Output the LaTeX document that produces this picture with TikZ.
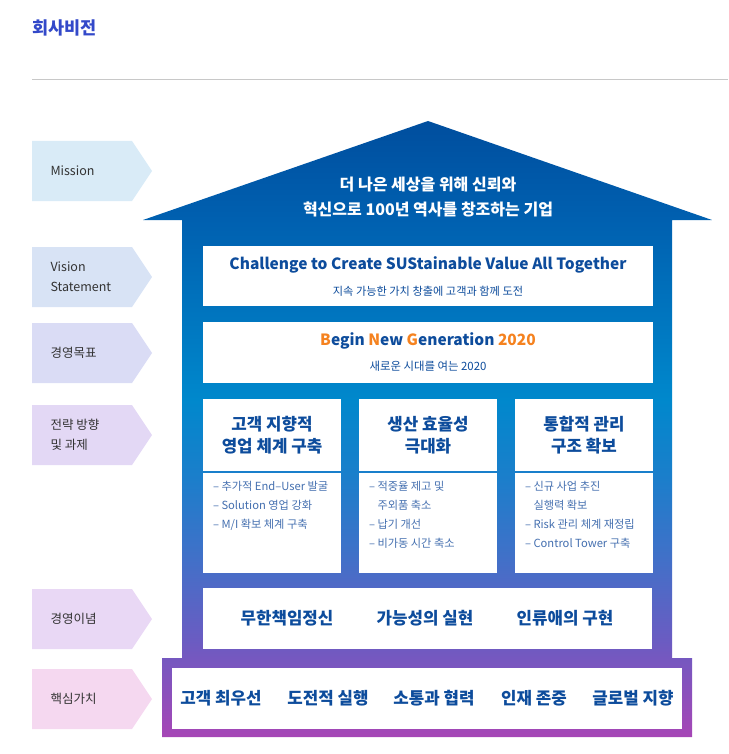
\documentclass[tikz,border=0pt]{standalone}
\usepackage{fontspec}
\setmainfont{Noto Sans CJK KR}
\usetikzlibrary{positioning}

\definecolor{titleblue}{HTML}{3349C9}
\definecolor{deepblue}{HTML}{0D4C9C}
\definecolor{softblue}{HTML}{4570B0}
\definecolor{orangeA}{HTML}{F5821F}
\definecolor{labgray}{HTML}{333333}
\definecolor{rulegray}{HTML}{C8C8C8}
\definecolor{labA}{HTML}{D9EBF7}
\definecolor{labB}{HTML}{D8E3F5}
\definecolor{labC}{HTML}{DADCF5}
\definecolor{labD}{HTML}{E3D8F5}
\definecolor{labE}{HTML}{E9D8F5}
\definecolor{labF}{HTML}{F5D8F0}
\definecolor{hb0}{HTML}{004E9E}
\definecolor{hb1}{HTML}{0060B0}
\definecolor{hb2}{HTML}{0088CC}
\definecolor{hb3}{HTML}{1C7ECB}
\definecolor{hb4}{HTML}{4270C8}
\definecolor{hb5}{HTML}{6A5CC2}
\definecolor{hb6}{HTML}{A646B6}
\pgfdeclareverticalshading{housefill}{100bp}{color(0bp)=(hb6); color(25bp)=(hb6); color(32.9bp)=(hb5); color(39.4bp)=(hb4); color(45.9bp)=(hb3); color(52.4bp)=(hb2); color(67bp)=(hb1); color(75bp)=(hb0); color(100bp)=(hb0)}

\begin{document}
\begin{tikzpicture}[x=1pt, y=-1pt,
  tag text/.style={anchor=west, align=left, text=labgray, font=\fontsize{12.5}{20}\selectfont},
  white box/.style={fill=white, inner sep=0pt, align=center},
  head text/.style={text=deepblue, font=\fontsize{16.8}{22}\selectfont\bfseries, align=center},
  item text/.style={text=softblue, font=\fontsize{11.2}{19}\selectfont, align=left, anchor=north west, inner sep=0pt}]
  \useasboundingbox (0,0) rectangle (728,754);

  % Title and rule
  \node[anchor=west, text=titleblue, font=\fontsize{17.5}{20}\selectfont\bfseries] (title) at (29,28) {회사비전};
  \draw[rulegray, line width=1pt] (32,80) -- (728,80);

  % Labels on the left
  \foreach \y/\c/\n/\t in {141/labA/mis/Mission, 247/labB/vis/{Vision\\Statement}, 323/labC/goal/경영목표,
                           405/labD/way/{전략 방향\\및 과제}, 589/labE/idea/경영이념, 669/labF/core/핵심가치} {
    \fill[\c] (32,\y) -- ++(100,0) -- ++(20,30) -- ++(-20,30) -- ++(-100,0) -- cycle;
    \node[tag text] (\n) at (47,\y+30) {\t};
  }

  % House
  \shade[shading=housefill] (143,220) -- (428,121) -- (712,220) -- (672,220) -- (672,658) -- (182,658) -- (182,220) -- cycle
    (162,658) rectangle (692,737);
  \node[text=white, font=\fontsize{16}{25}\selectfont\bfseries, align=center] (mission) at (428,197) {더 나은 세상을 위해 신뢰와\\혁신으로 100년 역사를 창조하는 기업};

  % Define nodes
  \node[white box, minimum width=450pt, minimum height=60pt] (vision) at (428,276) {};
  \node[text=deepblue, font=\fontsize{15.5}{20}\selectfont\bfseries] (visionA) at (428,265) {Challenge to Create SUStainable Value All Together};
  \node[text=deepblue, font=\fontsize{11.2}{12}\selectfont] (visionB) at (428,291) {지속 가능한 가치 창출에 고객과 함께 도전};

  \node[white box, minimum width=450pt, minimum height=61pt] (target) at (428,352.5) {};
  \node[text=deepblue, font=\fontsize{15.5}{20}\selectfont\bfseries] (targetA) at (428,341)
    {\textcolor{orangeA}{B}egin \textcolor{orangeA}{N}ew \textcolor{orangeA}{G}eneration \textcolor{orangeA}{2020}};
  \node[text=deepblue, font=\fontsize{11.4}{12}\selectfont] (targetB) at (428,366) {새로운 시대를 여는 2020};

  \foreach \x/\n/\h/\b in {272/colA/{고객 지향적\\영업 체계 구축}/{– 추가적 End–User 발굴\\– Solution 영업 강화\\– M/I 확보 체계 구축},
                           428/colB/{생산 효율성\\극대화}/{– 적중율 제고 및\\\phantom{– }주외품 축소\\– 납기 개선\\– 비가동 시간 축소},
                           584/colC/{통합적 관리\\구조 확보}/{– 신규 사업 추진\\\phantom{– }실행력 확보\\– Risk 관리 체계 재정립\\– Control Tower 구축}} {
    \node[white box, minimum width=138pt, minimum height=72pt] (\n head) at (\x,435) {};
    \node[head text] at (\n head) {\h};
    \node[white box, minimum width=138pt, minimum height=100pt] (\n body) at (\x,523) {};
    \node[item text] at ([xshift=10pt, yshift=-8pt]\n body.north west) {\b};
  }

  \node[white box, minimum width=449pt, minimum height=61pt] (creed) at (427.5,618.5) {};
  \foreach \x/\t in {287/무한책임정신, 425/가능성의 실현, 565/인류애의 구현}
    \node[head text] at (\x,618) {\t};

  \node[white box, minimum width=510pt, minimum height=61pt] (value) at (427,698) {};
  \foreach \x/\t in {221/고객 최우선, 328/도전적 실행, 434/소통과 협력, 534/인재 존중, 633/글로벌 지향}
    \node[head text] at (\x,698) {\t};
\end{tikzpicture}
\end{document}
